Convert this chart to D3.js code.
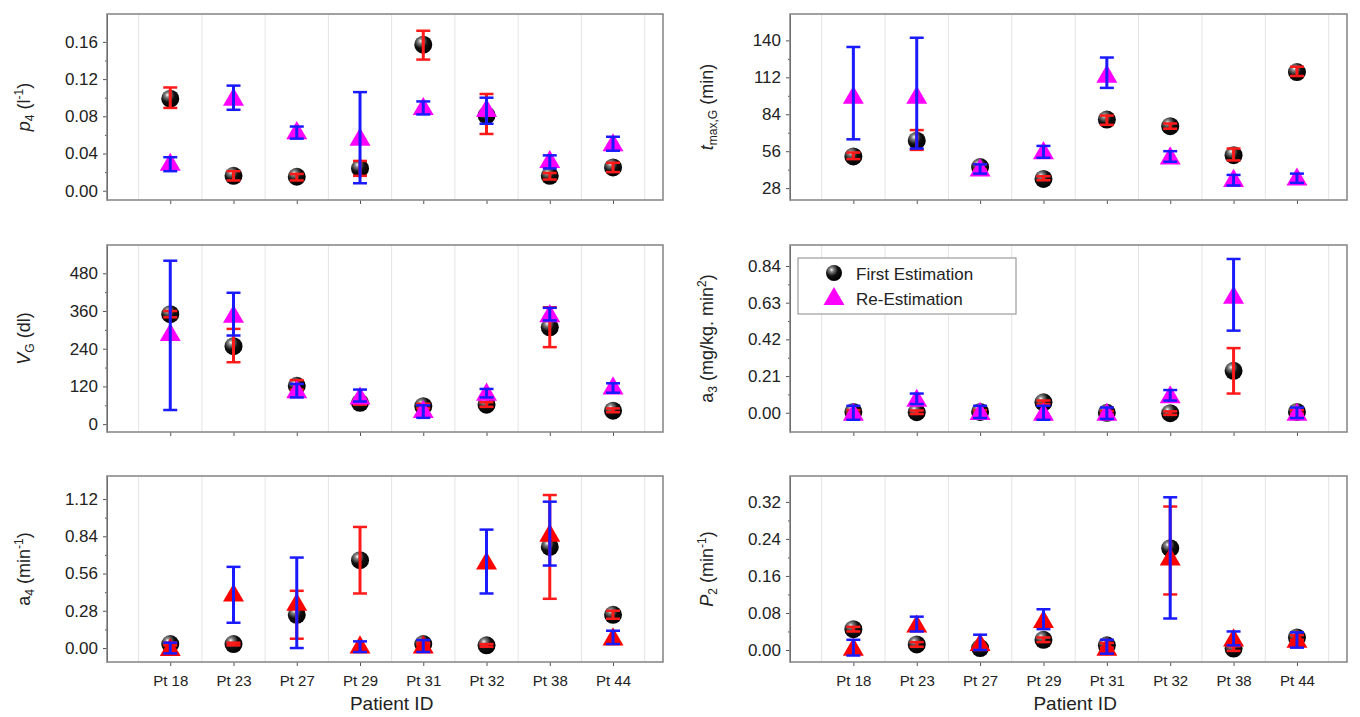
<!DOCTYPE html>
<html><head><meta charset="utf-8">
<script src="https://cdn.jsdelivr.net/npm/d3@7"></script>
<style>body{margin:0;background:#fff}text{font-family:"Liberation Sans",Arial,sans-serif}</style>
</head><body><svg id="chart" width="1360" height="717"></svg>
<script>
const patients = ['Pt 18','Pt 23','Pt 27','Pt 29','Pt 31','Pt 32','Pt 38','Pt 44'];

// p4
const p4First = [0.099,0.016,0.015,0.024,0.157,0.081,0.016,0.025];
const p4FirstLo = [0.089,0.011,0.011,0.016,0.141,0.061,0.012,0.020];
const p4FirstHi = [0.111,0.021,0.018,0.032,0.172,0.104,0.019,0.030];
const p4Re = [0.030,0.100,0.064,0.057,0.090,0.088,0.033,0.051];
const p4ReLo = [0.021,0.087,0.056,0.008,0.082,0.072,0.024,0.043];
const p4ReHi = [0.036,0.113,0.069,0.106,0.096,0.100,0.038,0.058];
// tmax,G
const tFirst = [52,64,44,35,80,75,53,116];
const tFirstLo = [50,57,42,34,76,73,49,113];
const tFirstHi = [55,72,46,37,83,77,58,120];
const tRe = [98,98,43,56,114,52,35,36];
const tReLo = [65,58,39,51,104,48,30,32];
const tReHi = [135,142,46,60,127,56,38,39];
// VG
const vFirst = [350,248,122,68,57,62,308,43];
const vFirstLo = [340,197,110,62,50,55,245,38];
const vFirstHi = [360,303,140,75,65,70,372,50];
const vRe = [290,348,108,88,45,100,350,120];
const vReLo = [45,282,85,72,20,85,330,100];
const vReHi = [520,418,128,110,60,112,370,130];
// a3
const a3First = [0.005,0.003,0.005,0.06,0.0,-0.002,0.24,0.005];
const a3FirstLo = [-0.005,-0.007,-0.005,0.05,-0.01,-0.012,0.11,-0.005];
const a3FirstHi = [0.015,0.013,0.015,0.07,0.01,0.008,0.37,0.015];
const a3Re = [0.0,0.08,0.005,0.0,0.0,0.10,0.67,0.0];
const a3ReLo = [-0.04,0.05,-0.03,-0.04,-0.035,0.07,0.47,-0.03];
const a3ReHi = [0.04,0.11,0.04,0.04,0.03,0.13,0.88,0.03];
// a4
const a4First = [0.03,0.03,0.25,0.66,0.03,0.02,0.76,0.25];
const a4FirstLo = [0.02,0.02,0.07,0.41,0.02,0.01,0.37,0.22];
const a4FirstHi = [0.04,0.04,0.43,0.91,0.04,0.03,1.15,0.28];
const a4Re = [0.0,0.41,0.34,0.02,0.02,0.65,0.86,0.08];
const a4ReLo = [-0.04,0.19,0.0,-0.03,-0.03,0.41,0.62,0.03];
const a4ReHi = [0.04,0.61,0.68,0.05,0.06,0.89,1.10,0.13];
// P2
const p2First = [0.045,0.012,0.004,0.022,0.01,0.22,0.003,0.027];
const p2FirstLo = [0.04,0.007,0.0,0.017,0.005,0.12,-0.002,0.022];
const p2FirstHi = [0.05,0.017,0.009,0.027,0.015,0.31,0.008,0.032];
const p2Re = [0.005,0.055,0.015,0.065,0.005,0.20,0.025,0.022];
const p2ReLo = [-0.012,0.04,0.0,0.045,-0.008,0.068,0.01,0.005];
const p2ReHi = [0.022,0.072,0.033,0.088,0.022,0.33,0.04,0.038];

const panels = [
  {col:0,row:0,dom:[-0.01,0.19],ticks:[0,0.04,0.08,0.12,0.16],fmt:'.2f',f:[p4First,p4FirstLo,p4FirstHi],r:[p4Re,p4ReLo,p4ReHi],tri:'#ff00ff',
   label:[['p','italic'],['4','sub'],[' (l','n'],['-1','sup'],[')','n']]},
  {col:1,row:0,dom:[19,160],ticks:[28,56,84,112,140],fmt:'d',f:[tFirst,tFirstLo,tFirstHi],r:[tRe,tReLo,tReHi],tri:'#ff00ff',
   label:[['t','italic'],['max,G','sub'],[' (min)','n']]},
  {col:0,row:1,dom:[-25,570],ticks:[0,120,240,360,480],fmt:'d',f:[vFirst,vFirstLo,vFirstHi],r:[vRe,vReLo,vReHi],tri:'#ff00ff',
   label:[['V','italic'],['G','sub'],[' (dl)','n']]},
  {col:1,row:1,dom:[-0.11,0.96],ticks:[0,0.21,0.42,0.63,0.84],fmt:'.2f',f:[a3First,a3FirstLo,a3FirstHi],r:[a3Re,a3ReLo,a3ReHi],tri:'#ff00ff',legend:true,
   label:[['a','n'],['3','sub'],[' (mg/kg. min','n'],['2','sup'],[')','n']]},
  {col:0,row:2,dom:[-0.105,1.293],ticks:[0,0.28,0.56,0.84,1.12],fmt:'.2f',f:[a4First,a4FirstLo,a4FirstHi],r:[a4Re,a4ReLo,a4ReHi],tri:'#ff0000',xl:true,
   label:[['a','n'],['4','sub'],[' (min','n'],['-1','sup'],[')','n']]},
  {col:1,row:2,dom:[-0.026,0.376],ticks:[0,0.08,0.16,0.24,0.32],fmt:'.2f',f:[p2First,p2FirstLo,p2FirstHi],r:[p2Re,p2ReLo,p2ReHi],tri:'#ff0000',xl:true,
   label:[['P','italic'],['2','sub'],[' (min','n'],['-1','sup'],[')','n']]}
];

const colX = [[107,663],[790,1347]];
const rowY = [[14,200],[245,432],[476,662]];
const svg = d3.select('#chart');

const grad = svg.append('defs').append('radialGradient').attr('id','ball')
  .attr('cx','35%').attr('cy','30%').attr('r','70%');
grad.append('stop').attr('offset','0%').attr('stop-color','#fff');
grad.append('stop').attr('offset','18%').attr('stop-color','#888');
grad.append('stop').attr('offset','55%').attr('stop-color','#111');
grad.append('stop').attr('offset','100%').attr('stop-color','#000');

const tri = d3.symbol().type(d3.symbolTriangle).size(190);

function errBar(g, x, lo, hi, color) {
  g.append('line').attr('x1',x).attr('x2',x).attr('y1',lo).attr('y2',hi).attr('stroke',color).attr('stroke-width',3);
  [lo,hi].forEach(y => g.append('line').attr('x1',x-7).attr('x2',x+7).attr('y1',y).attr('y2',y).attr('stroke',color).attr('stroke-width',2.5));
}

panels.forEach(p => {
  const [x0,x1] = colX[p.col], [y0,y1] = rowY[p.row];
  const x = d3.scaleLinear().domain([-1,7.79]).range([x0,x1]);
  const y = d3.scaleLinear().domain(p.dom).range([y1,y0]);
  const g = svg.append('g');

  // vertical gridlines
  d3.range(-0.5,7.6,1).forEach(v => g.append('line').attr('x1',x(v)).attr('x2',x(v)).attr('y1',y0).attr('y2',y1).attr('stroke','#e4e4e4'));

  // axes
  const ya = g.append('g').attr('transform',`translate(${x0},0)`)
    .call(d3.axisLeft(y).tickValues(p.ticks).tickFormat(d3.format(p.fmt)).tickSize(4).tickSizeOuter(0));
  ya.selectAll('text').attr('font-size',17).attr('fill','#222').attr('dx',-2);
  g.append('g').attr('transform',`translate(${x0},0)`)
    .call(d3.axisLeft(y).tickValues(p.ticks.slice(0,-1).map((t,i)=>(t+p.ticks[i+1])/2)).tickFormat('').tickSize(2).tickSizeOuter(0));
  const xa = g.append('g').attr('transform',`translate(0,${y1})`)
    .call(d3.axisBottom(x).tickValues(d3.range(8)).tickFormat(i => p.xl ? patients[i] : '').tickSize(4).tickSizeOuter(0));
  xa.selectAll('text').attr('font-size',15).attr('fill','#222').attr('dy','1.1em');
  [ya,xa].forEach(a => a.select('.domain').remove());
  g.selectAll('.tick line').attr('stroke','#555');

  g.append('rect').attr('x',x0).attr('y',y0).attr('width',x1-x0).attr('height',y1-y0)
    .attr('fill','none').attr('stroke','#8a8a8a').attr('stroke-width',1.6);

  // y label
  const lt = g.append('text').attr('transform',`translate(${x0-77},${(y0+y1)/2}) rotate(-90)`)
    .attr('text-anchor','middle').attr('font-size',18).attr('fill','#222');
  p.label.forEach(([t,s]) => {
    const ts = lt.append('tspan').text(t);
    if (s==='italic') ts.attr('font-style','italic');
    if (s==='sub') ts.attr('font-size',12).attr('baseline-shift','-4');
    if (s==='sup') ts.attr('font-size',12).attr('baseline-shift','7');
  });
  if (p.xl) svg.append('text').attr('x',x(3.5)).attr('y',710).attr('text-anchor','middle')
    .attr('font-size',19).attr('fill','#222').text('Patient ID');

  const [fv,flo,fhi] = p.f, [rv,rlo,rhi] = p.r;
  patients.forEach((_,i) => g.append('circle').attr('cx',x(i)).attr('cy',y(fv[i])).attr('r',9).attr('fill','url(#ball)'));
  patients.forEach((_,i) => errBar(g, x(i), y(flo[i]), y(fhi[i]), '#ff1a1a'));
  patients.forEach((_,i) => g.append('path').attr('d',tri).attr('transform',`translate(${x(i)},${y(rv[i])+2})`).attr('fill',p.tri));
  patients.forEach((_,i) => errBar(g, x(i), y(rlo[i]), y(rhi[i]), '#1a1aff'));

  if (p.legend) {
    const lg = svg.append('g');
    lg.append('rect').attr('x',798).attr('y',258).attr('width',218).attr('height',56).attr('fill','#fff').attr('stroke','#888');
    lg.append('circle').attr('cx',834).attr('cy',273).attr('r',8).attr('fill','url(#ball)');
    lg.append('path').attr('d',tri).attr('transform','translate(834,299)').attr('fill','#ff00ff');
    lg.append('text').attr('x',856).attr('y',280).attr('font-size',17).attr('fill','#222').text('First Estimation');
    lg.append('text').attr('x',856).attr('y',305).attr('font-size',17).attr('fill','#222').text('Re-Estimation');
  }
});
</script></body></html>
